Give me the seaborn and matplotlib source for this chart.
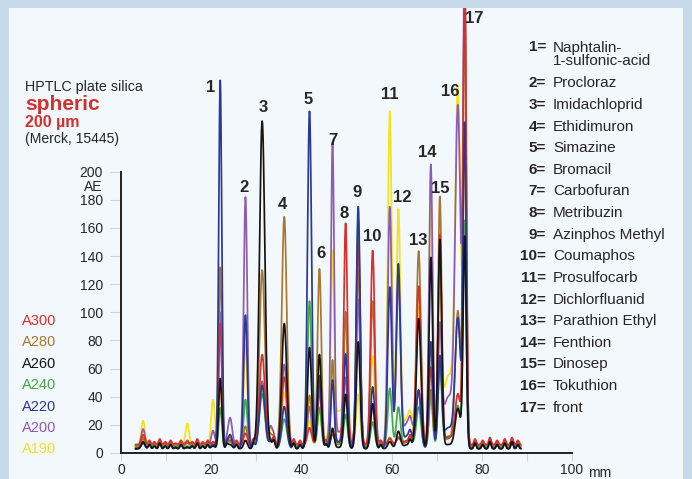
import numpy as np
import pandas as pd
import matplotlib
matplotlib.use("Agg")
import matplotlib.pyplot as plt
from matplotlib.patches import Rectangle
import seaborn as sns

# peak table: position on the plate (mm) and width (mm) of each band / hump
peak_mm = [4.9, 14.7, 20.4, 22.0, 24.2, 27.6, 31.3, 33.2, 36.2, 41.8, 44.0, 46.9, 48.5,
           49.8, 52.6, 55.8, 59.6, 61.5, 63.8, 66.0, 68.7, 70.7, 72.6, 74.7, 76.2]
peak_sigma = [0.4, 0.4, 0.4, 0.34, 0.45, 0.4, 0.6, 0.45, 0.55, 0.45, 0.42, 0.36, 1.5,
              0.4, 0.42, 0.45, 0.45, 0.45, 1.2, 0.5, 0.4, 0.4, 1.2, 0.6, 0.35]

# peak heights (AE above baseline) per wavelength channel
a300 = [7, 2, 2, 86, 3, 8, 64, 3, 48, 12, 42, 6, 2, 156, 144, 138, 4, 4, 3, 112, 55, 148, 5, 35, 330]
a280 = [6, 2, 2, 127, 6, 14, 125, 8, 163, 36, 126, 60, 2, 94, 125, 103, 6, 6, 3, 138, 40, 176, 5, 95, 330]
a260 = [5, 1, 2, 50, 3, 6, 233, 4, 89, 72, 67, 14, 1, 38, 76, 32, 5, 12, 3, 92, 136, 148, 3, 28, 150]
a240 = [6, 1, 2, 28, 4, 34, 38, 4, 20, 104, 28, 10, 2, 22, 162, 18, 42, 28, 4, 28, 38, 58, 8, 28, 160]
a220 = [4, 1, 3, 262, 10, 95, 45, 5, 30, 240, 52, 46, 5, 64, 172, 44, 115, 130, 10, 40, 76, 62, 15, 90, 228]
a200 = [12, 4, 11, 95, 20, 177, 46, 14, 58, 28, 38, 210, 10, 42, 104, 28, 170, 115, 18, 36, 200, 78, 35, 235, 340]
a190 = [18, 16, 33, 45, 8, 72, 43, 12, 38, 18, 28, 125, 25, 25, 36, 64, 238, 165, 22, 95, 174, 95, 50, 245, 200]

channels = ["A300", "A280", "A260", "A240", "A220", "A200", "A190"]
baseline = [6, 5, 3, 4, 3, 5, 5]

# small baseline ripples
noise_mm = [6.3, 7.4, 8.6, 9.8, 11.0, 12.1, 13.3, 15.8, 16.9, 18.1, 19.2, 23.5, 25.6, 29.4,
            33.9, 38.3, 39.7, 45.5, 57.6, 64.1, 78.5, 80.2, 81.8, 83.4, 85.1, 86.7, 88.0]
noise_ae = [3, 2, 4, 2, 3, 1, 3, 2, 4, 2, 3, 3, 3, 4, 5, 4, 3, 3, 3, 4, 4, 3, 5, 3, 4, 5, 3]

compounds = ["Naphtalin-\n1-sulfonic-acid", "Procloraz", "Imidachloprid", "Ethidimuron",
             "Simazine", "Bromacil", "Carbofuran", "Metribuzin", "Azinphos Methyl",
             "Coumaphos", "Prosulfocarb", "Dichlorfluanid", "Parathion Ethyl", "Fenthion",
             "Dinosep", "Tokuthion", "front"]

colors = {"A300": "#d8302c", "A280": "#a8782f", "A260": "#151515", "A240": "#45a845",
          "A220": "#2a3898", "A200": "#8c5cb2", "A190": "#f4e21c"}

# build the traces
x = np.arange(3.2, 88.7, 0.05)
rows = []
for ch, base, hts in zip(channels, baseline, [a300, a280, a260, a240, a220, a200, a190]):
    y = np.full_like(x, base, dtype=float)
    for p, s, h in zip(peak_mm, peak_sigma, hts):
        y += h * np.exp(-0.5 * ((x - p) / s) ** 2)
    for p, h in zip(noise_mm, noise_ae):
        y += h * np.exp(-0.5 * ((x - p) / 0.25) ** 2)
    rows.append(pd.DataFrame({"mm": x, "AE": y, "channel": ch}))
df = pd.concat(rows, ignore_index=True)

sns.set_style("white")
plt.rcParams["font.family"] = ["Liberation Sans", "DejaVu Sans"]

fig = plt.figure(figsize=(6.92, 4.79), dpi=100, facecolor="#c7daeb")
fig.add_artist(Rectangle((9 / 692, 0), 674 / 692, 471 / 479, transform=fig.transFigure,
                         facecolor="#f3f8fc", edgecolor="none", zorder=-1))
ax = fig.add_axes([121 / 692, 26 / 479, 451 / 692, 445 / 479])
ax.patch.set_alpha(0)

draw_order = ["A190", "A200", "A240", "A280", "A300", "A220", "A260"]
sns.lineplot(data=df, x="mm", y="AE", hue="channel", hue_order=draw_order, palette=colors,
             estimator=None, sort=False, lw=1.25, legend=False, ax=ax)

ax.set_xlim(0, 100)
ax.set_ylim(0, 316.4)
ax.set_xlabel("")
ax.set_ylabel("")
for side in ["top", "right"]:
    ax.spines[side].set_visible(False)
ax.spines["left"].set_bounds(0, 200)
ax.spines["bottom"].set_bounds(0, 100)
for side in ["left", "bottom"]:
    ax.spines[side].set_color("#222222")
    ax.spines[side].set_linewidth(1.4)

ax.set_yticks(range(0, 201, 20))
ax.set_xticks(range(0, 101, 20))
ax.set_xticks(range(10, 100, 20), minor=True)
ax.tick_params(axis="y", length=8, width=0.8, color="#cfd4d8", pad=5, labelsize=10,
               left=True)
ax.tick_params(axis="x", which="both", length=6, width=0.8, color="#cfd4d8", pad=1.5,
               labelsize=10, bottom=True)
ax.annotate("AE", xy=(0, 200), xytext=(-13, -11), textcoords="offset points",
            ha="right", va="center", fontsize=10)
ax.text(588 / 692, 6 / 479, "mm", transform=fig.transFigure, fontsize=10, va="center")

# peak numbers
label_mm = [19.8, 27.3, 31.6, 35.8, 41.6, 44.4, 46.9, 49.5, 52.4, 55.8, 59.6, 62.4, 65.8,
            68.0, 70.7, 72.9, 78.4]
label_ae = [260, 189, 246, 177, 251, 142, 222, 170, 185, 154, 255, 182, 151, 214, 188, 257, 309]
for i, (lx, ly) in enumerate(zip(label_mm, label_ae)):
    ax.text(lx, ly, str(i + 1), ha="center", va="center", fontsize=12, fontweight="bold",
            family=["Liberation Sans Narrow", "Liberation Sans"])

# heading
fig.text(25 / 692, 1 - 87 / 479, "HPTLC plate silica", fontsize=10.3, va="center")
fig.text(25 / 692, 1 - 105 / 479, "spheric", fontsize=15, va="center", color="#d3312d",
         fontweight="bold")
fig.text(25 / 692, 1 - 123 / 479, "200 µm", fontsize=11.5, va="center", color="#d3312d",
         fontweight="bold")
fig.text(25 / 692, 1 - 139 / 479, "(Merck, 15445)", fontsize=10.1, va="center")

# channel labels
for i, ch in enumerate(channels):
    fig.text(22 / 692, 1 - (321 + 21.4 * i) / 479, ch, color=colors[ch], fontsize=10.5,
             va="center")

# compound list
ypix = 47
for i, name in enumerate(compounds):
    fig.text(546 / 692, 1 - ypix / 479, f"{i + 1}=", ha="right", va="center",
             fontsize=11, fontweight="bold")
    fig.text(553 / 692, 1 - ypix / 479 - (7.5 / 479 if "\n" in name else 0), name,
             ha="left", va="center", fontsize=11, linespacing=0.95)
    ypix += 36.5 if "\n" in name else 21.6

fig.savefig("out.png", dpi=100, facecolor=fig.get_facecolor())
